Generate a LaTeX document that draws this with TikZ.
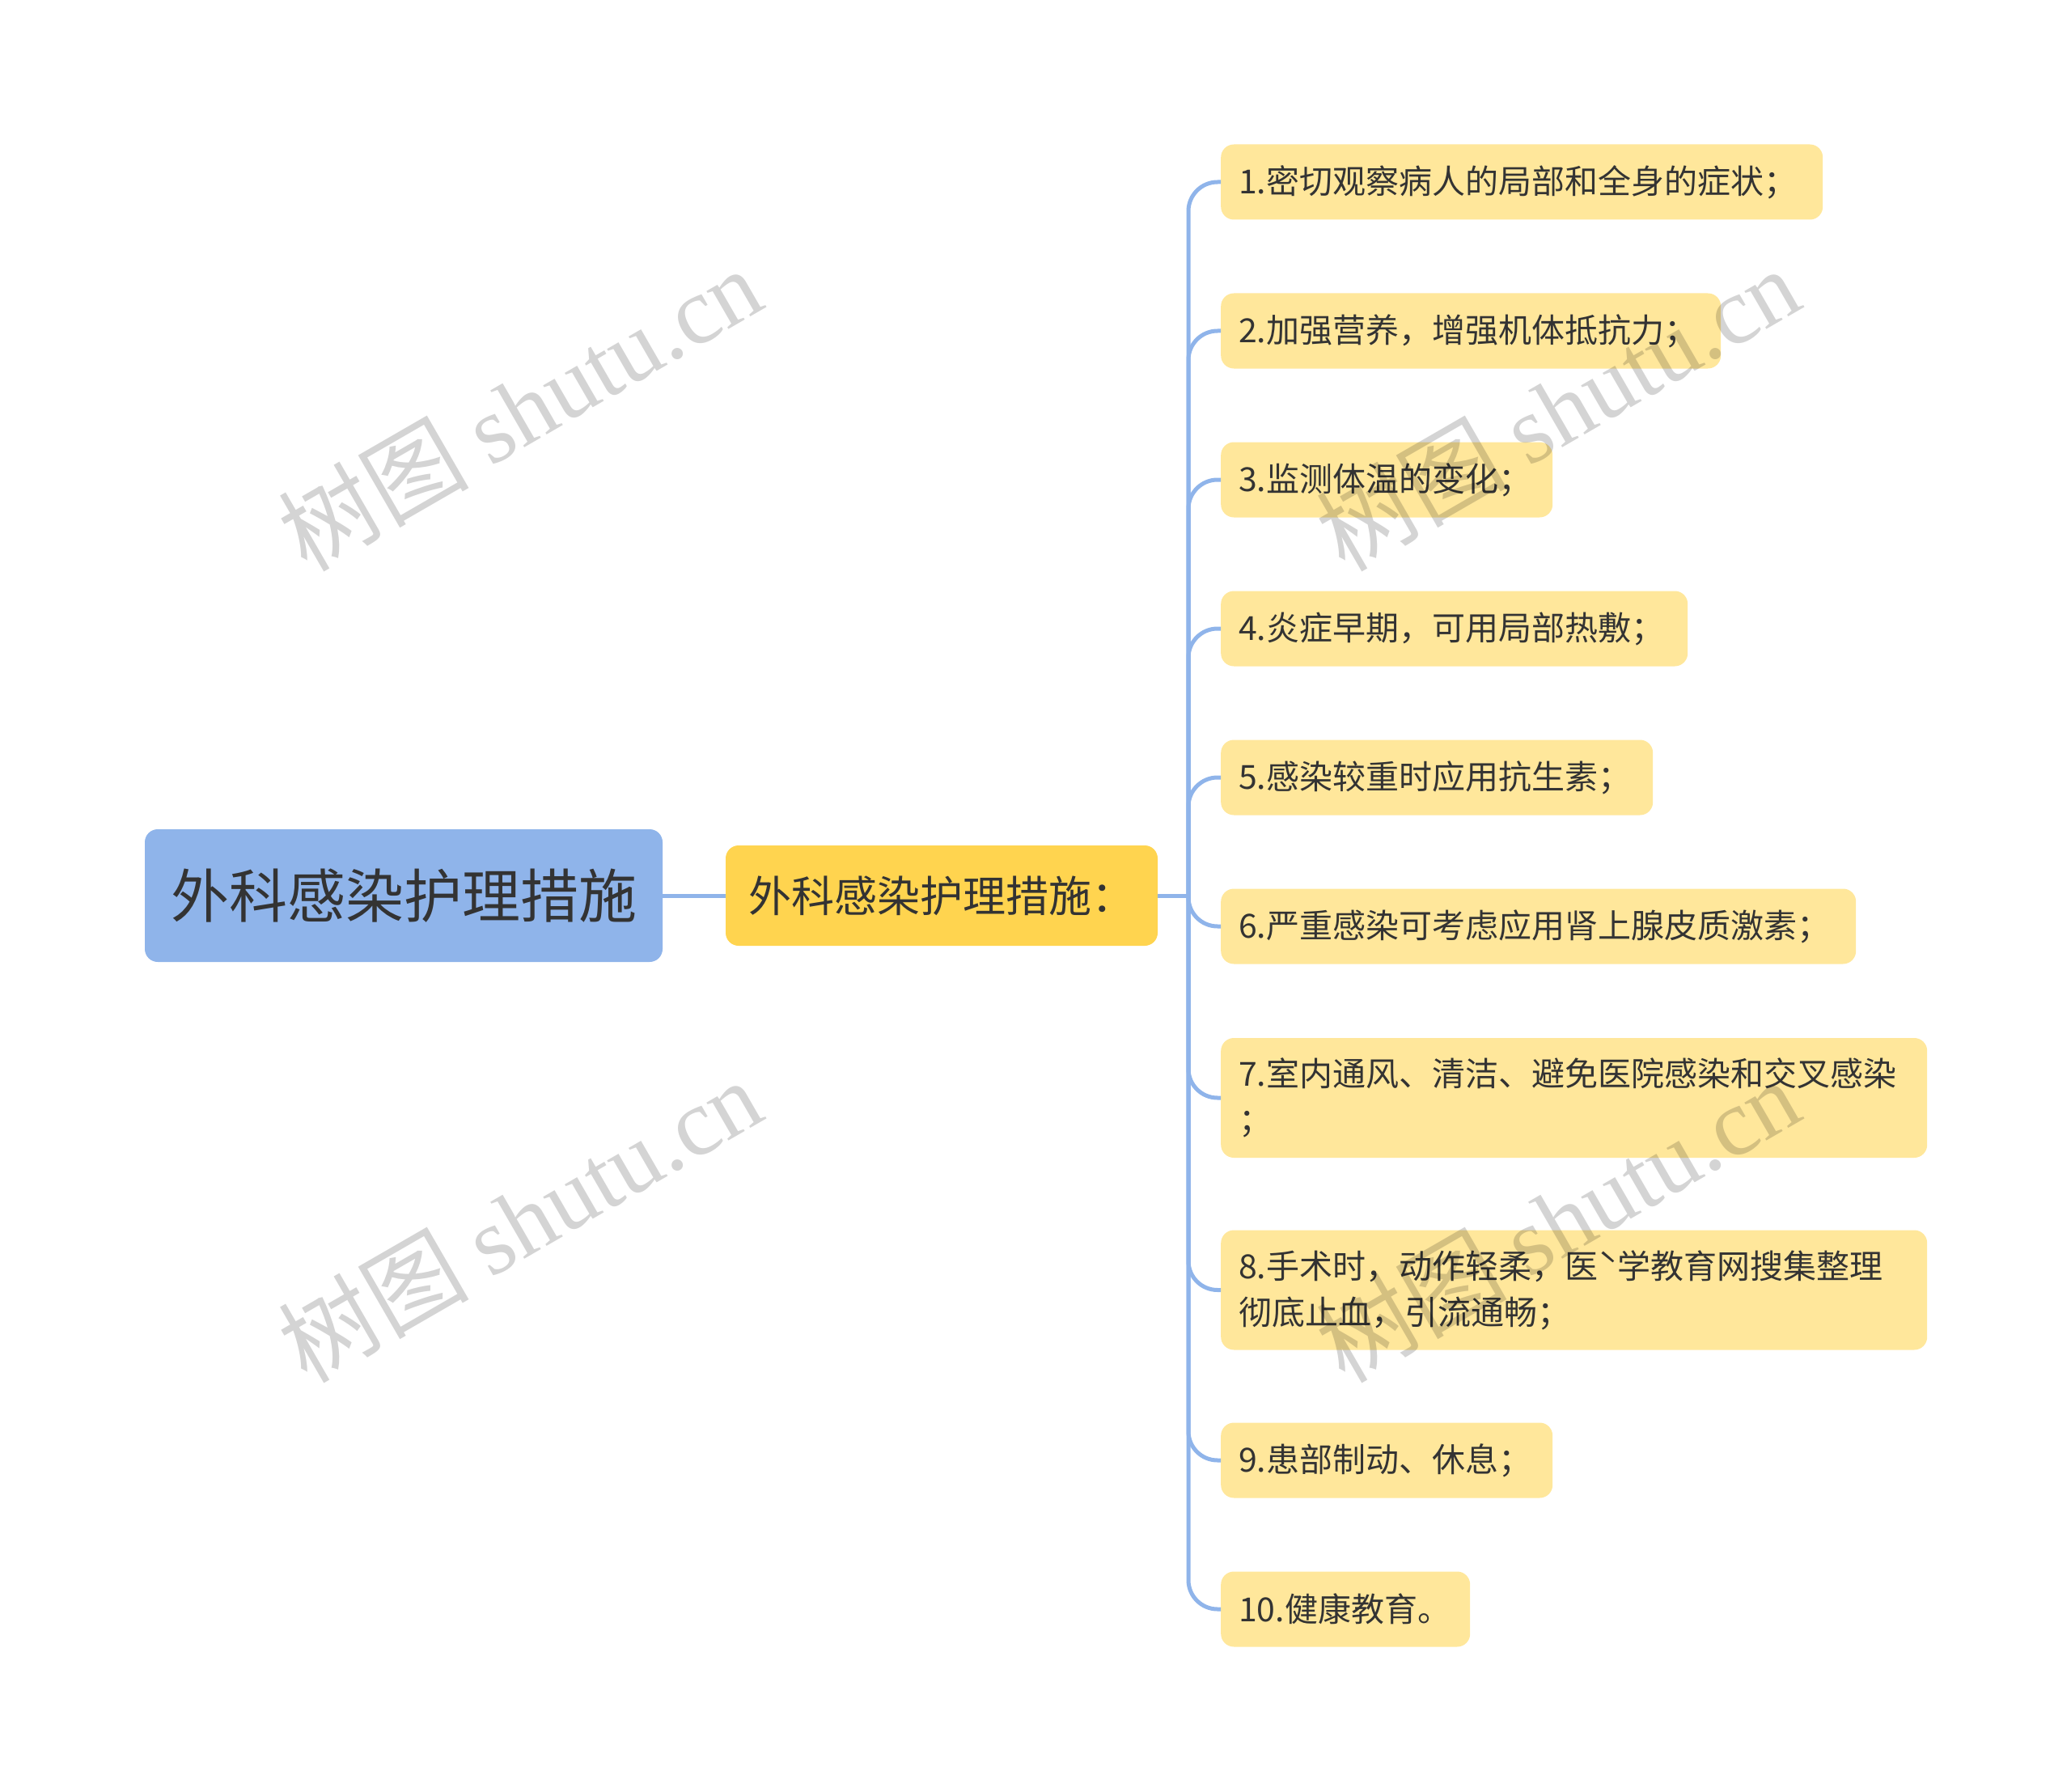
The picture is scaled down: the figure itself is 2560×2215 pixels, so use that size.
\documentclass[tikz,border=0pt]{standalone}
\usepackage{fontspec}
\setmainfont{Noto Sans CJK SC}
\newfontfamily\wmlatin{Liberation Serif}
\definecolor{rootblue}{HTML}{8FB4EA}
\definecolor{midyellow}{HTML}{FFD44F}
\definecolor{leafyellow}{HTML}{FFE79B}
\definecolor{linkblue}{HTML}{8FB4EA}
\definecolor{inkdark}{HTML}{333333}
\tikzset{
	rootbox/.style={fill=rootblue, rounded corners=16pt, minimum width=640pt, minimum height=164pt, inner sep=0pt, text=inkdark, font=\fontsize{72}{80}\selectfont},
	midbox/.style={fill=midyellow, rounded corners=16pt, minimum width=534pt, minimum height=124pt, inner sep=0pt, text=inkdark, font=\fontsize{53}{60}\selectfont},
	leafbox/.style={fill=leafyellow, rounded corners=16pt, anchor=west, inner xsep=22pt, inner ysep=0pt, text width=#1, align=left, minimum height=93pt, text=inkdark, font=\fontsize{41}{57}\selectfont},
	branch/.style={draw=linkblue, line width=5pt, rounded corners=36pt},
	watermark/.style={rotate=30, text=black, text opacity=0.17, font=\fontsize{118}{120}\selectfont}
}
\begin{document}
\begin{tikzpicture}[x=1pt, y=-1pt]
		\useasboundingbox (0,0) rectangle (2560,2215);
		\node[rootbox] (root) at (499, 1107) {外科感染护理措施};
		\node[midbox] (mid) at (1164, 1107) {外科感染护理措施：};
		\coordinate (fork) at (1469, 1107);
		\node[leafbox=700pt] (l1) at (1509, 225) {1.密切观察病人的局部和全身的症状；};
		\node[leafbox=574pt] (l2) at (1509, 409) {2.加强营养，增强机体抵抗力；};
		\node[leafbox=366pt] (l3) at (1509, 593) {3.监测体温的变化；};
		\node[leafbox=533pt] (l4) at (1509, 777) {4.炎症早期，可用局部热敷；};
		\node[leafbox=490pt] (l5) at (1509, 961) {5.感染较重时应用抗生素；};
		\node[leafbox=741pt] (l6) at (1509, 1145) {6.严重感染可考虑应用肾上腺皮质激素；};
		\node[leafbox=829pt, minimum height=148pt] (l7) at (1509, 1357) {7.室内通风、清洁、避免医院感染和交叉感染\\；};
		\node[leafbox=829pt, minimum height=148pt] (l8) at (1509, 1594.5) {8.手术时，动作轻柔，医ˋ学教育网搜集整理\\彻底止血，引流通畅；};
		\node[leafbox=366pt] (l9) at (1509, 1805) {9.患部制动、休息；};
		\node[leafbox=264pt] (l10) at (1509, 1989) {10.健康教育。};
		\draw[branch] (root.east) -- (mid.west);
		\draw[branch] (mid.east) -- (fork);
		\foreach \i in {1,...,10}
			\draw[branch] (fork) |- (l\i.west);
		\node[watermark] (wm1) at (642, 505) {树图 {\wmlatin shutu.cn}};
		\node[watermark] (wm2) at (1925, 505) {树图 {\wmlatin shutu.cn}};
		\node[watermark] (wm3) at (642, 1508) {树图 {\wmlatin shutu.cn}};
		\node[watermark] (wm4) at (1925, 1508) {树图 {\wmlatin shutu.cn}};
	\end{tikzpicture}
\end{document}
